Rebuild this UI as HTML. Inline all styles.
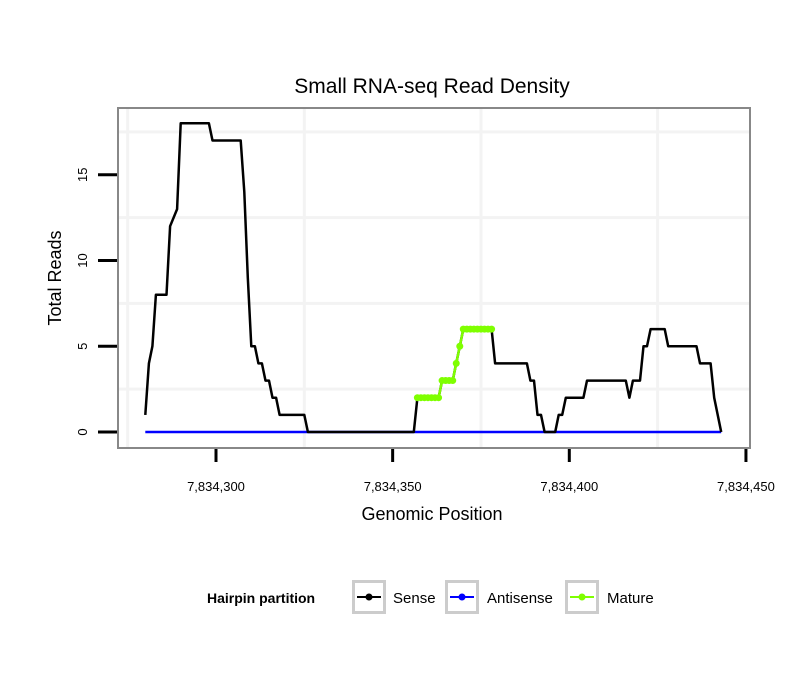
<!DOCTYPE html>
<html><head><meta charset="utf-8"><style>
body{margin:0;background:#fff;font-family:"Liberation Sans",sans-serif}
</style></head><body>
<svg id="chart" width="810" height="690" xmlns="http://www.w3.org/2000/svg" font-family="Liberation Sans, sans-serif">
<rect width="810" height="690" fill="#fff"/>
<text x="432" y="93" font-size="21" text-anchor="middle">Small RNA-seq Read Density</text>
<g id="gridLayer"></g>
<g id="seriesLayer"></g>
<rect x="118" y="108" width="632" height="340" fill="none" stroke="#888" stroke-width="2"/>
<g id="axesLayer"></g>
<text x="432" y="520" font-size="18" text-anchor="middle">Genomic Position</text>
<text transform="translate(61,278) rotate(-90)" font-size="18" text-anchor="middle">Total Reads</text>
<g>
<text x="207" y="603" font-size="14" font-weight="bold">Hairpin partition</text>
<g>
<rect x="353.5" y="581.5" width="31" height="31" fill="#fff" stroke="#ccc" stroke-width="3"/>
<line x1="357" y1="597" x2="381" y2="597" stroke="#000" stroke-width="2"/><circle cx="369" cy="597" r="3.5" fill="#000"/>
<text x="393" y="603" font-size="15">Sense</text></g>
<g>
<rect x="446.5" y="581.5" width="31" height="31" fill="#fff" stroke="#ccc" stroke-width="3"/>
<line x1="450" y1="597" x2="474" y2="597" stroke="#00f" stroke-width="2"/><circle cx="462" cy="597" r="3.5" fill="#00f"/>
<text x="487" y="603" font-size="15">Antisense</text></g>
<g>
<rect x="566.5" y="581.5" width="31" height="31" fill="#fff" stroke="#ccc" stroke-width="3"/>
<line x1="570" y1="597" x2="594" y2="597" stroke="#7fff00" stroke-width="2"/><circle cx="582" cy="597" r="3.5" fill="#7fff00"/>
<text x="607" y="603" font-size="15">Mature</text></g>
</g>
</svg>
<script>
var sensePos = [7834280,7834281,7834282,7834283,7834286,7834287,7834289,7834290,7834298,7834299,7834307,7834308,7834309,7834310,7834311,7834312,7834313,7834314,7834315,7834316,7834317,7834318,7834325,7834326,7834356,7834357,7834363,7834364,7834367,7834368,7834369,7834370,7834378,7834379,7834388,7834389,7834390,7834391,7834392,7834393,7834396,7834397,7834398,7834399,7834404,7834405,7834416,7834417,7834418,7834420,7834421,7834422,7834423,7834427,7834428,7834436,7834437,7834440,7834441,7834442,7834443];
var senseVal = [1,4,5,8,8,12,13,18,18,17,17,14,9,5,5,4,4,3,3,2,2,1,1,0,0,2,2,3,3,4,5,6,6,4,4,3,3,1,1,0,0,1,1,2,2,3,3,2,3,3,5,5,6,6,5,5,4,4,2,1,0];
var maturePos = [7834357,7834358,7834359,7834360,7834361,7834362,7834363,7834364,7834365,7834366,7834367,7834368,7834369,7834370,7834371,7834372,7834373,7834374,7834375,7834376,7834377,7834378];
var matureVal = [2,2,2,2,2,2,2,3,3,3,3,4,5,6,6,6,6,6,6,6,6,6];
var antisensePos = [7834280,7834443];
var antisenseVal = [0,0];
var xTicks = [7834300,7834350,7834400,7834450];
var xTickLabels = ["7,834,300","7,834,350","7,834,400","7,834,450"];
var yTicks = [0,5,10,15];
var yTickLabels = ["0","5","10","15"];

var SVGNS = "http://www.w3.org/2000/svg";
function xScale(p){ return 216 + (p - 7834300) * 3.533; }
function yScale(v){ return 432 - v * 17.15; }
function makeEl(tag, attrs, parent){
  var e = document.createElementNS(SVGNS, tag);
  for (var k in attrs) e.setAttribute(k, attrs[k]);
  parent.appendChild(e);
  return e;
}
var gridG = document.getElementById('gridLayer');
var seriesG = document.getElementById('seriesLayer');
var axesG = document.getElementById('axesLayer');

for (var i = 0; i < xTicks.length; i++) {
  var gx = xScale(xTicks[i] - 25);
  if (gx > 118 && gx < 750) {
    var gl = makeEl('line', {x1: gx, x2: gx, y1: 109, y2: 447, stroke: '#f3f3f3', 'stroke-width': 3}, gridG);
    
    
  }
}
for (var j = 0; j < yTicks.length; j++) {
  var gy = yScale(yTicks[j] + 2.5);
  var hl = makeEl('line', {x1: 119, x2: 749, y1: gy, y2: gy, stroke: '#f3f3f3', 'stroke-width': 3}, gridG);
  
  
}

function drawSeries(ps, vs, color, name){
  var pts = [];
  for (var k = 0; k < ps.length; k++) pts.push(xScale(ps[k]).toFixed(1) + ',' + yScale(vs[k]).toFixed(1));
  var pl = makeEl('polyline', {points: pts.join(' '), fill: 'none', stroke: color, 'stroke-width': '2.5', 'stroke-linejoin': 'round'}, seriesG);
  
  
}
drawSeries(antisensePos, antisenseVal, '#0000ff', 'antisense-line');
drawSeries(sensePos, senseVal, '#000000', 'sense-line');
drawSeries(maturePos, matureVal, '#7fff00', 'mature-line');
for (var m = 0; m < maturePos.length; m++) {
  var c = makeEl('circle', {cx: xScale(maturePos[m]), cy: yScale(matureVal[m]), r: 3.5, fill: '#7fff00'}, seriesG);
  
  
}

for (var a = 0; a < xTicks.length; a++) {
  var tx = xScale(xTicks[a]);
  var xt = makeEl('line', {x1: tx, x2: tx, y1: 449, y2: 462, stroke: '#000', 'stroke-width': 3}, axesG);
  
  
  var xl = makeEl('text', {x: tx, y: 491, 'font-size': 13, 'text-anchor': 'middle'}, axesG);
  xl.textContent = xTickLabels[a];
  
  
}
for (var b = 0; b < yTicks.length; b++) {
  var ty = yScale(yTicks[b]);
  var yt = makeEl('line', {x1: 98, x2: 117, y1: ty, y2: ty, stroke: '#000', 'stroke-width': 3}, axesG);
  
  
  var yl = makeEl('text', {transform: 'translate(87,' + ty + ') rotate(-90)', 'font-size': 13, 'text-anchor': 'middle'}, axesG);
  yl.textContent = yTickLabels[b];
  
  
}
</script>
</body></html>
